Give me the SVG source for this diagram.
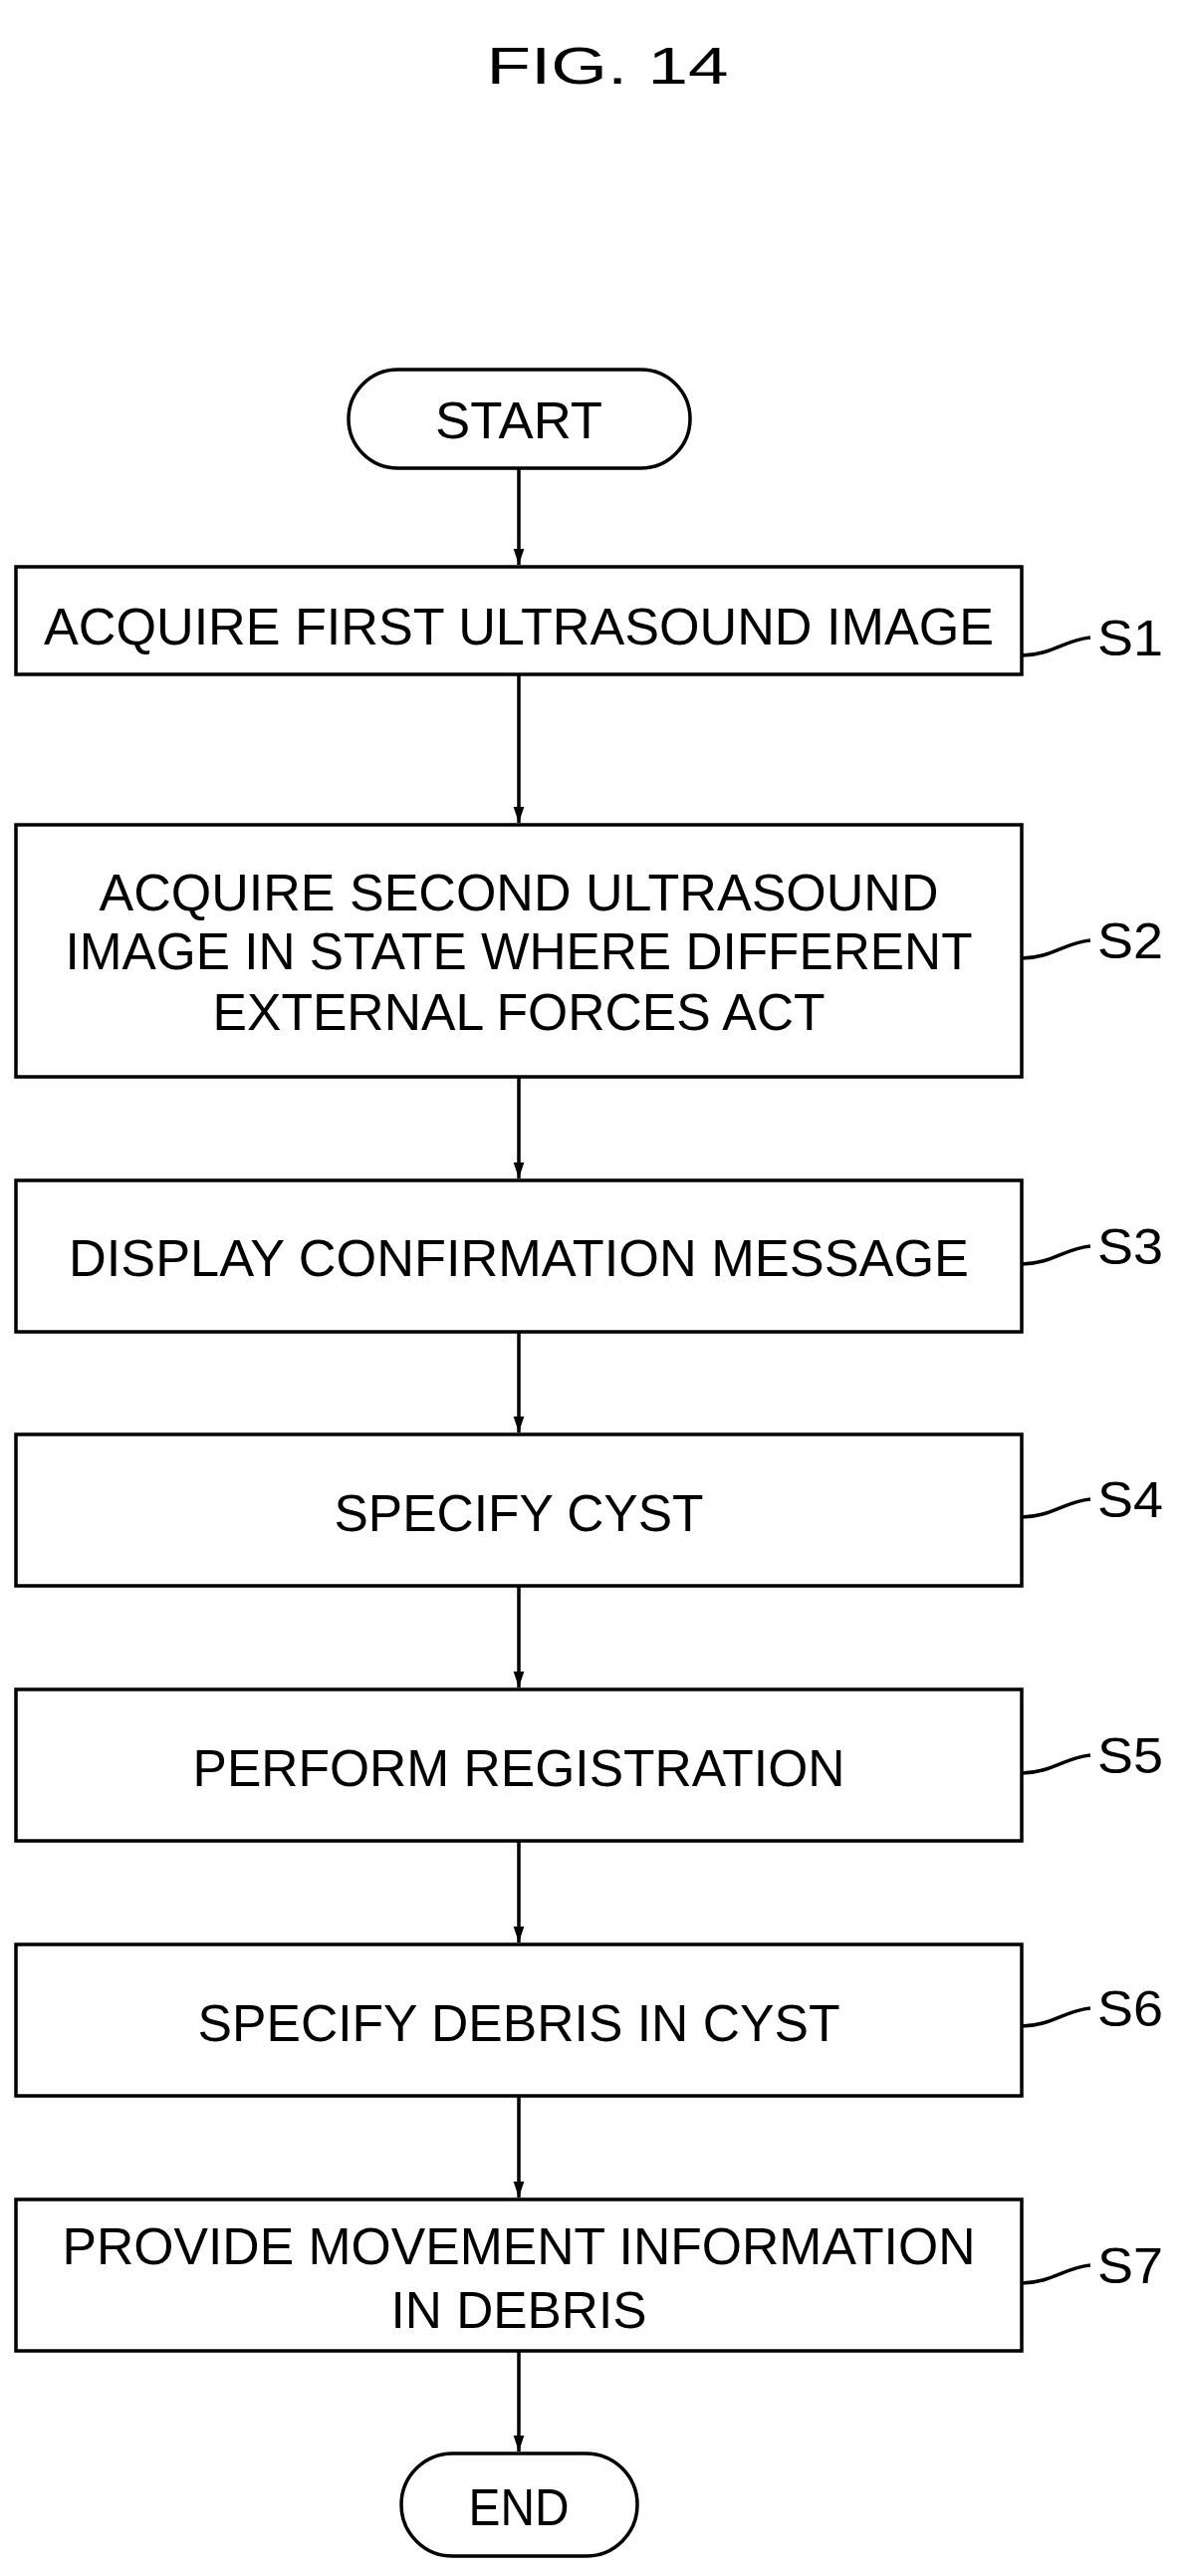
<svg xmlns="http://www.w3.org/2000/svg" width="1188" height="2586" viewBox="0 0 1188 2586">
<style>
.b{fill:#fff;stroke:#000;stroke-width:3.5}
.t{font-family:"Liberation Sans",Arial,sans-serif;font-size:52px;text-anchor:middle;fill:#000}
.l{font-family:"Liberation Sans",Arial,sans-serif;font-size:50px;fill:#000}
.c{fill:none;stroke:#000;stroke-width:3.5}
</style>
<defs><marker id="a" markerWidth="16" markerHeight="24" refX="24" refY="8" orient="auto" markerUnits="userSpaceOnUse" viewBox="0 0 24 16"><path d="M0,0L24,8L0,16z"/></marker></defs>
<rect width="1188" height="2586" fill="#fff"/>
<text class="t" x="610" y="84" font-size="66" textLength="243" lengthAdjust="spacingAndGlyphs">FIG. 14</text>
<g id="start"><rect class="b" x="350" y="371" width="343" height="99" rx="49.5"/><text class="t" x="521" y="440" textLength="168" lengthAdjust="spacingAndGlyphs">START</text></g>
<g id="s1"><rect class="b" x="16" y="569" width="1010" height="108"/><text class="t" x="521" y="666" dy="-19" textLength="954" lengthAdjust="spacingAndGlyphs">ACQUIRE FIRST ULTRASOUND IMAGE</text><text class="l" x="1102" y="658" textLength="66" lengthAdjust="spacingAndGlyphs">S1</text></g>
<g id="s2"><rect class="b" x="16" y="828" width="1010" height="253"/><text class="t" x="521" y="914" textLength="843" lengthAdjust="spacingAndGlyphs">ACQUIRE SECOND ULTRASOUND</text><text class="t" x="521" y="973" textLength="911" lengthAdjust="spacingAndGlyphs">IMAGE IN STATE WHERE DIFFERENT</text><text class="t" x="521" y="1034" textLength="615" lengthAdjust="spacingAndGlyphs">EXTERNAL FORCES ACT</text><text class="l" x="1102" y="962" textLength="66" lengthAdjust="spacingAndGlyphs">S2</text></g>
<g id="s3"><rect class="b" x="16" y="1185" width="1010" height="152"/><text class="t" x="521" y="1281" textLength="904" lengthAdjust="spacingAndGlyphs">DISPLAY CONFIRMATION MESSAGE</text><text class="l" x="1102" y="1269" textLength="66" lengthAdjust="spacingAndGlyphs">S3</text></g>
<g id="s4"><rect class="b" x="16" y="1440" width="1010" height="152"/><text class="t" x="521" y="1537" textLength="371" lengthAdjust="spacingAndGlyphs">SPECIFY CYST</text><text class="l" x="1102" y="1523" textLength="66" lengthAdjust="spacingAndGlyphs">S4</text></g>
<g id="s5"><rect class="b" x="16" y="1696" width="1010" height="152"/><text class="t" x="521" y="1793" textLength="655" lengthAdjust="spacingAndGlyphs">PERFORM REGISTRATION</text><text class="l" x="1102" y="1780" textLength="66" lengthAdjust="spacingAndGlyphs">S5</text></g>
<g id="s6"><rect class="b" x="16" y="1952" width="1010" height="152"/><text class="t" x="521" y="2049" textLength="645" lengthAdjust="spacingAndGlyphs">SPECIFY DEBRIS IN CYST</text><text class="l" x="1102" y="2034" textLength="66" lengthAdjust="spacingAndGlyphs">S6</text></g>
<g id="s7"><rect class="b" x="16" y="2208" width="1010" height="152"/><text class="t" x="521" y="2273" textLength="917" lengthAdjust="spacingAndGlyphs">PROVIDE MOVEMENT INFORMATION</text><text class="t" x="521" y="2337" textLength="257" lengthAdjust="spacingAndGlyphs">IN DEBRIS</text><text class="l" x="1102" y="2292" textLength="66" lengthAdjust="spacingAndGlyphs">S7</text></g>
<g id="end"><rect class="b" x="403" y="2463" width="237" height="103" rx="51.5"/><text class="t" x="521" y="2535" textLength="101" lengthAdjust="spacingAndGlyphs">END</text></g>
<g id="connectors">
<path class="c" marker-end="url(#a)" d="M521,470V567"/>
<path class="c" marker-end="url(#a)" d="M521,677V826"/>
<path class="c" marker-end="url(#a)" d="M521,1081V1183"/>
<path class="c" marker-end="url(#a)" d="M521,1337V1438"/>
<path class="c" marker-end="url(#a)" d="M521,1592V1694"/>
<path class="c" marker-end="url(#a)" d="M521,1848V1950"/>
<path class="c" marker-end="url(#a)" d="M521,2104V2206"/>
<path class="c" marker-end="url(#a)" d="M521,2360V2461"/>
<path class="c" d="M1026,658C1055,658 1070,642 1095,640"/>
<path class="c" d="M1026,962C1055,962 1070,946 1095,944"/>
<path class="c" d="M1026,1269C1055,1269 1070,1253 1095,1251"/>
<path class="c" d="M1026,1523C1055,1523 1070,1507 1095,1505"/>
<path class="c" d="M1026,1780C1055,1780 1070,1764 1095,1762"/>
<path class="c" d="M1026,2034C1055,2034 1070,2018 1095,2016"/>
<path class="c" d="M1026,2292C1055,2292 1070,2276 1095,2274"/>
</g>
</svg>
